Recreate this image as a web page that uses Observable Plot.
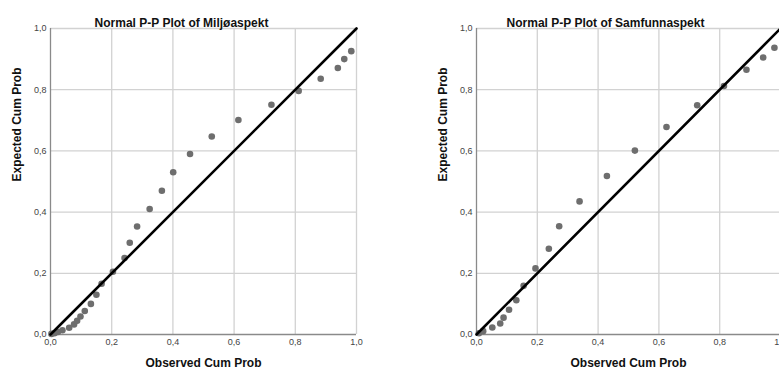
<!DOCTYPE html>
<html><head><meta charset="utf-8">
<script src="https://cdn.jsdelivr.net/npm/d3@7"></script>
<script src="https://cdn.jsdelivr.net/npm/@observablehq/plot@0.6"></script>
<style>
html,body{margin:0;padding:0;background:#fff;overflow:hidden}
#wrap{display:flex;width:779px;height:371px;overflow:hidden}
#wrap svg{flex:none;display:block}
</style></head><body><div id="wrap"></div>
<script>
const tickValues = [0, 0.2, 0.4, 0.6, 0.8, 1.0];
const diagonal = [[0, 0], [1, 1]];

const miljoTitle = "Normal P-P Plot of Miljøaspekt";
const miljoObserved = [0.003, 0.013, 0.024, 0.039, 0.061, 0.077, 0.087, 0.098, 0.112, 0.132, 0.150, 0.167, 0.204, 0.242, 0.259, 0.283, 0.324, 0.364, 0.401, 0.456, 0.527, 0.614, 0.722, 0.811, 0.883, 0.939, 0.960, 0.983];
const miljoExpected = [0.002, 0.004, 0.008, 0.014, 0.022, 0.033, 0.045, 0.059, 0.077, 0.100, 0.130, 0.166, 0.205, 0.250, 0.300, 0.353, 0.410, 0.470, 0.530, 0.590, 0.647, 0.701, 0.751, 0.796, 0.836, 0.871, 0.900, 0.926];

const samfTitle = "Normal P-P Plot of Samfunnaspekt";
const samfObserved = [0.008, 0.022, 0.052, 0.078, 0.089, 0.107, 0.131, 0.155, 0.194, 0.238, 0.272, 0.339, 0.429, 0.521, 0.625, 0.726, 0.814, 0.888, 0.943, 0.980];
const samfExpected = [0.004, 0.011, 0.023, 0.036, 0.055, 0.081, 0.112, 0.159, 0.216, 0.280, 0.354, 0.435, 0.518, 0.601, 0.678, 0.749, 0.812, 0.865, 0.905, 0.937];

const xLabel = "Observed Cum Prob";
const yLabel = "Expected Cum Prob";

const fmt = d => d.toFixed(1).replace(".", ",");
const font = "'Liberation Sans', Arial, sans-serif";

function panel(title, obs, exp, opts) {
  const data = obs.map((o, i) => ({o, e: exp[i]}));
  return Plot.plot({
    width: opts.width, height: 371,
    marginLeft: opts.marginLeft, marginRight: opts.marginRight,
    marginTop: 28, marginBottom: 37,
    style: {fontFamily: font, background: "white", overflow: "visible"},
    x: {domain: [0, 1]},
    y: {domain: [0, 1]},
    marks: [
      Plot.gridX(tickValues.slice(1), {stroke: "#d2d2d2", strokeOpacity: 1, strokeWidth: 1.3}),
      Plot.gridY(tickValues.slice(1), {stroke: "#d2d2d2", strokeOpacity: 1, strokeWidth: 1.3}),
      Plot.ruleX([0], {stroke: "#8a8a8a", strokeWidth: 1.3}),
      Plot.ruleY([0], {stroke: "#8a8a8a", strokeWidth: 1.3}),
      Plot.axisX({ticks: tickValues, tickSize: 0, tickPadding: 4, tickFormat: fmt, fontSize: 9, color: "#444", label: null}),
      Plot.axisY({ticks: tickValues, tickSize: 0, tickPadding: 4, tickFormat: fmt, fontSize: 9, color: "#444", label: null}),
      Plot.dot(data, {x: "o", y: "e", r: 3.3, fill: "#6e6e6e", stroke: "none"}),
      Plot.line(diagonal, {x: d => d[0], y: d => d[1], stroke: "#000", strokeWidth: 2.6}),
      Plot.text([title], {text: d => d, frameAnchor: "top", dy: -10, dx: opts.titleDx, fontWeight: "bold", fontSize: 12, fill: "#111"}),
      Plot.text([xLabel], {text: d => d, frameAnchor: "bottom", dy: 32, fontWeight: "bold", fontSize: 12, fill: "#111"}),
      Plot.text([yLabel], {text: d => d, frameAnchor: "left", dx: -33, rotate: -90, fontWeight: "bold", fontSize: 12, fill: "#111"})
    ]
  });
}

const wrap = document.getElementById("wrap");
wrap.appendChild(panel(miljoTitle, miljoObserved, miljoExpected, {width: 390, marginLeft: 50, marginRight: 34, titleDx: -22}));
wrap.appendChild(panel(samfTitle, samfObserved, samfExpected, {width: 400, marginLeft: 86, marginRight: 10, titleDx: -23}));
</script></body></html>
